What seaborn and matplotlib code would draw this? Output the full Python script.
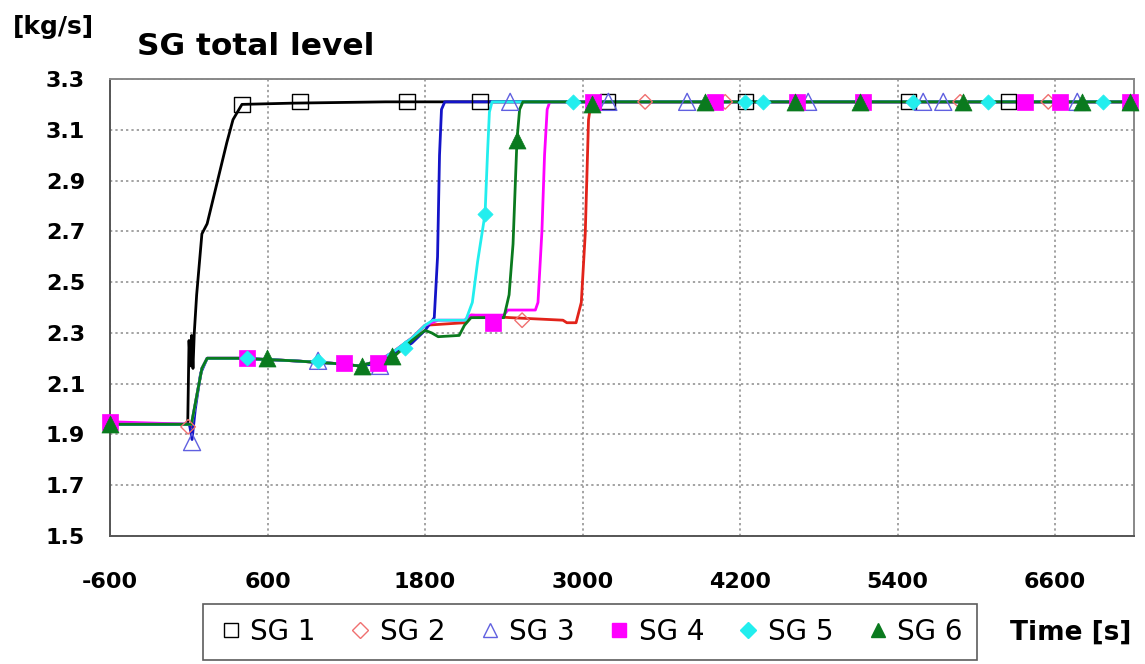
import matplotlib
matplotlib.use("Agg")
import matplotlib.pyplot as plt
from matplotlib.lines import Line2D
import numpy as np
import pandas as pd
import seaborn as sns

# ---- series data: time [s] and total flow [kg/s] ----
sg1_t = [-600, -8, 2, 12, 22, 32, 42, 60, 100, 140, 215, 290, 337, 405, 800, 1500, 7200]
sg1_v = [1.94, 1.94, 2.27, 2.17, 2.29, 2.16, 2.30, 2.45, 2.69, 2.73, 2.89, 3.05, 3.14, 3.20, 3.205, 3.21, 3.21]

sg2_t = [-600, -5, 20, 60, 100, 140, 400, 800, 1100, 1300, 1450, 1570, 1700, 1800, 2100, 2150, 2450, 2650,
         2850, 2880, 2950, 2990, 3020, 3045, 3065, 7200]
sg2_v = [1.94, 1.94, 1.93, 2.05, 2.16, 2.20, 2.20, 2.19, 2.18, 2.17, 2.19, 2.23, 2.28, 2.33, 2.34, 2.37, 2.36, 2.355,
         2.35, 2.34, 2.34, 2.42, 2.69, 3.14, 3.21, 3.21]

sg3_t = [-600, 5, 25, 50, 90, 140, 400, 800, 1100, 1300, 1450, 1570, 1700, 1800, 1870, 1895, 1910, 1925, 1950, 7200]
sg3_v = [1.94, 1.94, 1.88, 2.00, 2.14, 2.20, 2.20, 2.19, 2.18, 2.17, 2.18, 2.22, 2.26, 2.31, 2.36, 2.60, 3.00, 3.18, 3.21, 3.21]

sg4_t = [-600, 20, 60, 100, 140, 400, 800, 1100, 1300, 1450, 1570, 1700, 1800, 1900, 2100, 2150, 2400, 2430,
         2640, 2660, 2690, 2710, 2730, 2750, 7200]
sg4_v = [1.95, 1.94, 2.05, 2.16, 2.20, 2.20, 2.19, 2.18, 2.17, 2.19, 2.23, 2.28, 2.33, 2.35, 2.35, 2.37, 2.37, 2.39,
         2.39, 2.42, 2.70, 3.00, 3.18, 3.21, 3.21]

sg5_t = [-600, 20, 60, 100, 140, 400, 800, 1100, 1300, 1450, 1570, 1700, 1800, 1860, 2110, 2160, 2200, 2257,
         2275, 2290, 2310, 7200]
sg5_v = [1.94, 1.94, 2.05, 2.16, 2.20, 2.20, 2.19, 2.18, 2.17, 2.19, 2.23, 2.28, 2.33, 2.35, 2.35, 2.42, 2.58, 2.77,
         3.00, 3.17, 3.21, 3.21]

sg6_t = [-600, 20, 60, 100, 140, 400, 800, 1100, 1300, 1450, 1570, 1700, 1800, 1850, 1900, 2060, 2100, 2150,
         2400, 2440, 2470, 2500, 2520, 2545, 7200]
sg6_v = [1.94, 1.94, 2.05, 2.16, 2.20, 2.20, 2.19, 2.18, 2.17, 2.19, 2.21, 2.27, 2.31, 2.30, 2.285, 2.29, 2.33, 2.36,
         2.36, 2.45, 2.65, 3.06, 3.18, 3.21, 3.21]

# ---- marker points along each series ----
sg1_mt = [406, 848, 1663, 2219, 3187, 4238, 5480, 6242]
sg1_mv = [3.20, 3.21, 3.21, 3.21, 3.21, 3.21, 3.21, 3.21]

sg2_mt = [-5, 2539, 3476, 4086, 5876, 6547]
sg2_mv = [1.93, 2.35, 3.21, 3.21, 3.21, 3.21]

sg3_mt = [25, 985, 1457, 2448, 3196, 3796, 4718, 5594, 5747, 6768]
sg3_mv = [1.87, 2.19, 2.17, 3.21, 3.21, 3.21, 3.21, 3.21, 3.21, 3.21]

sg4_mt = [-600, 444, 1183, 1442, 2318, 3080, 4010, 4634, 5137, 6371, 6638, 7171]
sg4_mv = [1.95, 2.20, 2.18, 2.18, 2.34, 3.21, 3.21, 3.21, 3.21, 3.21, 3.21, 3.21]

sg5_mt = [444, 985, 1648, 2257, 2928, 4238, 4375, 5518, 6090, 6966]
sg5_mv = [2.20, 2.19, 2.24, 2.77, 3.21, 3.21, 3.21, 3.21, 3.21, 3.21]

sg6_mt = [-600, 596, 1320, 1549, 2500, 3072, 3933, 4619, 5114, 5899, 6806, 7171]
sg6_mv = [1.94, 2.20, 2.17, 2.21, 3.06, 3.20, 3.21, 3.21, 3.21, 3.21, 3.21, 3.21]

names = ["SG 1", "SG 2", "SG 3", "SG 4", "SG 5", "SG 6"]
x_ticks = [-600, 600, 1800, 3000, 4200, 5400, 6600]
y_ticks = [1.5, 1.7, 1.9, 2.1, 2.3, 2.5, 2.7, 2.9, 3.1, 3.3]

# ---- styling ----
line_colors = ["#000000", "#E2231A", "#1414C8", "#FF00FF", "#22EEEE", "#0A7A1E"]
marker_edge = ["#000000", "#F07070", "#6060E0", "#FF00FF", "#22EEEE", "#0A7A1E"]
marker_shape = ["s", "D", "^", "s", "D", "^"]
hollow = [True, True, True, False, False, False]
marker_area = [120, 55, 150, 120, 60, 150]

sns.set_style("white")
plt.rcParams["font.family"] = ["DejaVu Sans"]
plt.rcParams["text.color"] = "black"
plt.rcParams["xtick.labelcolor"] = "black"
plt.rcParams["ytick.labelcolor"] = "black"

fig = plt.figure(figsize=(11.45, 6.64), dpi=100)
ax = fig.add_axes([110 / 1145, 1 - 536 / 664, (1134 - 110) / 1145, (536 - 79) / 664])

lines = [(sg1_t, sg1_v), (sg2_t, sg2_v), (sg3_t, sg3_v), (sg4_t, sg4_v), (sg5_t, sg5_v), (sg6_t, sg6_v)]
marks = [(sg1_mt, sg1_mv), (sg2_mt, sg2_mv), (sg3_mt, sg3_mv), (sg4_mt, sg4_mv), (sg5_mt, sg5_mv), (sg6_mt, sg6_mv)]

for i, (t, v) in enumerate(lines):
    df = pd.DataFrame({"t": t, "v": v})
    sns.lineplot(data=df, x="t", y="v", ax=ax, color=line_colors[i], linewidth=2.0,
                 sort=False, estimator=None, zorder=2 + i * 0.1)

for i, (t, v) in enumerate(marks):
    df = pd.DataFrame({"t": t, "v": v})
    if hollow[i]:
        sns.scatterplot(data=df, x="t", y="v", ax=ax, marker=marker_shape[i], s=marker_area[i],
                        facecolors="none", edgecolors=marker_edge[i], linewidth=1.0, zorder=4 + i * 0.1,
                        clip_on=False)
    else:
        sns.scatterplot(data=df, x="t", y="v", ax=ax, marker=marker_shape[i], s=marker_area[i],
                        color=marker_edge[i], edgecolor=marker_edge[i], linewidth=0.5, zorder=4 + i * 0.1,
                        clip_on=False)

ax.set_xlim(-600, 7200)
ax.set_ylim(1.5, 3.3)
ax.set_xticks(x_ticks)
ax.set_yticks(y_ticks)
ax.set_xticklabels([str(x) for x in x_ticks], fontsize=16, fontweight="bold")
ax.set_yticklabels([f"{y:.1f}" for y in y_ticks], fontsize=16, fontweight="bold")
ax.set_xlabel("")
ax.set_ylabel("")

ax.grid(True, color="#8a8a8a", linestyle=(0, (1.5, 2)), linewidth=1.1)
ax.set_axisbelow(True)
ax.tick_params(axis="x", direction="out", length=7, width=1.2, color="#666666", pad=19)
ax.tick_params(axis="y", direction="out", length=8, width=1.2, color="#666666", pad=10)
for side in ["left", "bottom"]:
    ax.spines[side].set_color("#555555")
    ax.spines[side].set_linewidth(1.4)
for side in ["top", "right"]:
    ax.spines[side].set_color("#888888")
    ax.spines[side].set_linewidth(1.4)

# ---- text ----
fig.text(13 / 1145, 1 - 27 / 664, "[kg/s]", fontsize=18, fontweight="bold", ha="left", va="center")
fig.text(137 / 1145, 1 - 55 / 664, "SG total level", fontsize=22.5, fontweight="bold",
         ha="left", va="baseline")
fig.text(1071 / 1145, 1 - 633 / 664, "Time [s]", fontsize=19, fontweight="bold", ha="center", va="center")

# ---- legend ----
handles = []
for i in range(6):
    handles.append(Line2D([], [], linestyle="none", marker=marker_shape[i],
                          markersize=10.5 if marker_shape[i] != "D" else 8,
                          markerfacecolor="none" if hollow[i] else marker_edge[i],
                          markeredgecolor=marker_edge[i], markeredgewidth=1.0))
leg = fig.legend(handles, names, loc="upper left", bbox_to_anchor=(203 / 1145, 1 - 604 / 664),
                 ncol=6, fontsize=20, frameon=True, fancybox=False, edgecolor="#333333",
                 handlelength=1.0, handletextpad=0.2, columnspacing=1.1, borderpad=0.5,
                 borderaxespad=0)
leg.get_frame().set_linewidth(1.2)

fig.savefig("out.png", dpi=100)
